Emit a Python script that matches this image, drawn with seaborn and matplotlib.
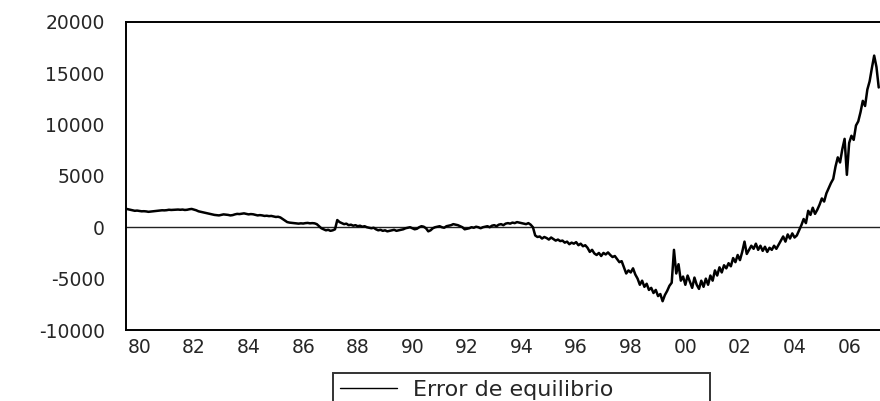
import numpy as np
import pandas as pd
import matplotlib
matplotlib.use("Agg")
import matplotlib.pyplot as plt
import seaborn as sns

# ---------------- data (monthly, starting Jan 1980) ----------------
start_year = 1980
series_name = "Error de equilibrio"

v1980 = [1800, 1750, 1700, 1650, 1600, 1620, 1580, 1550, 1560, 1540, 1500, 1520]
v1981 = [1550, 1580, 1600, 1620, 1650, 1640, 1660, 1700, 1680, 1690, 1700, 1720]
v1982 = [1700, 1720, 1680, 1700, 1750, 1780, 1720, 1650, 1550, 1500, 1450, 1400]
v1983 = [1350, 1300, 1250, 1200, 1180, 1150, 1200, 1250, 1230, 1200, 1150, 1180]
v1984 = [1250, 1300, 1280, 1320, 1350, 1300, 1250, 1280, 1260, 1200, 1150, 1180]
v1985 = [1150, 1100, 1120, 1080, 1100, 1050, 1000, 1020, 950, 800, 650, 500]
v1986 = [450, 420, 400, 380, 350, 380, 360, 400, 420, 380, 400, 380]
v1987 = [300, 100, -100, -200, -300, -250, -350, -300, -200, 700, 500, 400]
v1988 = [300, 350, 200, 250, 150, 200, 100, 150, 50, 100, 0, -50]
v1989 = [-100, -50, -200, -300, -250, -350, -300, -400, -350, -300, -250, -350]
v1990 = [-300, -250, -200, -100, -50, 0, -100, -200, -150, 0, 100, 50]
v1991 = [-100, -400, -300, -100, 0, 50, 100, 0, -50, 100, 150, 200]
v1992 = [300, 250, 200, 100, 0, -200, -150, -100, 0, -50, 50, 0]
v1993 = [-100, 0, 50, 100, 0, 150, 200, 100, 250, 300, 200, 350]
v1994 = [400, 350, 450, 400, 500, 450, 400, 350, 300, 400, 250, 0]
v1995 = [-800, -950, -900, -1100, -950, -1050, -1200, -1000, -1150, -1300, -1200, -1350]
v1996 = [-1300, -1500, -1400, -1650, -1500, -1600, -1450, -1750, -1600, -1850, -1750, -2000]
v1997 = [-2400, -2200, -2550, -2700, -2500, -2800, -2500, -2650, -2450, -2700, -2900, -2800]
v1998 = [-3100, -3400, -3300, -3900, -4500, -4200, -4400, -4000, -4600, -5000, -5600, -5200]
v1999 = [-5800, -5500, -6100, -5900, -6400, -6100, -6700, -6500, -7200, -6600, -6200, -5700]
v2000 = [-5400, -2200, -4500, -3600, -5200, -4800, -5600, -4700, -5300, -5900, -4900, -5600]
v2001 = [-6000, -5200, -5800, -5000, -5600, -4700, -5200, -4200, -4700, -3900, -4400, -3700]
v2002 = [-4000, -3500, -3800, -3000, -3400, -2700, -3200, -2400, -1400, -2600, -2200, -1800]
v2003 = [-2100, -1600, -2200, -1800, -2300, -1900, -2400, -2000, -2200, -1800, -2100, -1700]
v2004 = [-1300, -900, -1400, -700, -1100, -600, -1000, -800, -300, 200, 800, 400]
v2005 = [1600, 1200, 1900, 1300, 1700, 2200, 2800, 2500, 3300, 3800, 4300, 4700]
v2006 = [5900, 6800, 6300, 7600, 8600, 5100, 8200, 8900, 8500, 9900, 10300, 11200]
v2007 = [12300, 11800, 13400, 14200, 15500, 16700, 15600, 13600]

x_tick_labels = ["80", "82", "84", "86", "88", "90", "92", "94",
                 "96", "98", "00", "02", "04", "06"]
y_ticks = [-10000, -5000, 0, 5000, 10000, 15000, 20000]

values = (v1980 + v1981 + v1982 + v1983 + v1984 + v1985 + v1986 + v1987 +
          v1988 + v1989 + v1990 + v1991 + v1992 + v1993 + v1994 + v1995 +
          v1996 + v1997 + v1998 + v1999 + v2000 + v2001 + v2002 + v2003 +
          v2004 + v2005 + v2006 + v2007)
t = start_year + np.arange(len(values)) / 12.0
df = pd.DataFrame({"t": t, "value": values, "serie": series_name})

# ---------------- figure ----------------
sns.set_style("white")
plt.rcParams["font.family"] = ["DejaVu Sans"]

W, H = 880, 401
fig = plt.figure(figsize=(W / 100, H / 100), dpi=100)
ax = fig.add_axes([125.7 / W, (H - 330) / H, 28 * 27.3 / W, 308.3 / H])

sns.lineplot(data=df, x="t", y="value", hue="serie", palette=["black"],
             linewidth=1.8, ax=ax)
ax.axhline(0, color="#222222", linewidth=1.0, zorder=1)

ax.set_xlim(1980, 2008)
ax.set_ylim(-10000, 20000)
ax.set_xlabel("")
ax.set_ylabel("")

# x: tick marks at every year boundary, labels centred in even years
ax.set_xticks(np.arange(1981, 2008))
ax.set_xticklabels([])
label_pos = [1980.5 + 2 * i for i in range(len(x_tick_labels))]
ax.set_xticks(label_pos, minor=True)
ax.set_xticklabels(x_tick_labels, minor=True)
ax.tick_params(axis="x", which="major", direction="out", length=6, width=1.2,
               color="black")
ax.tick_params(axis="x", which="minor", length=0, pad=6, labelsize=13.5)

ax.set_yticks(y_ticks)
ax.set_yticklabels([str(v) for v in y_ticks])
ax.tick_params(axis="y", direction="out", length=9, width=1.2, color="black",
               labelsize=13.5, pad=6)

for s in ["left", "bottom", "top", "right"]:
    ax.spines[s].set_color("black")
    ax.spines[s].set_linewidth(1.4)

# legend below the chart (its lower edge runs off the figure, as in the scan)
handles, labels = ax.get_legend_handles_labels()
ax.legend_.remove()
leg_top = 1 - 373 / H
leg = fig.legend(handles, labels, loc="upper left",
                 bbox_to_anchor=(333 / W, leg_top - 0.05, 377 / W, 0.05),
                 mode="expand",
                 frameon=True, fancybox=False, fontsize=16,
                 handlelength=2.6, handletextpad=0.7, borderpad=0.3,
                 borderaxespad=0)
leg.get_frame().set_edgecolor("black")
leg.get_frame().set_linewidth(1.4)
for line in leg.get_lines():
    line.set_linewidth(1.0)

fig.savefig("out.png", dpi=100)
